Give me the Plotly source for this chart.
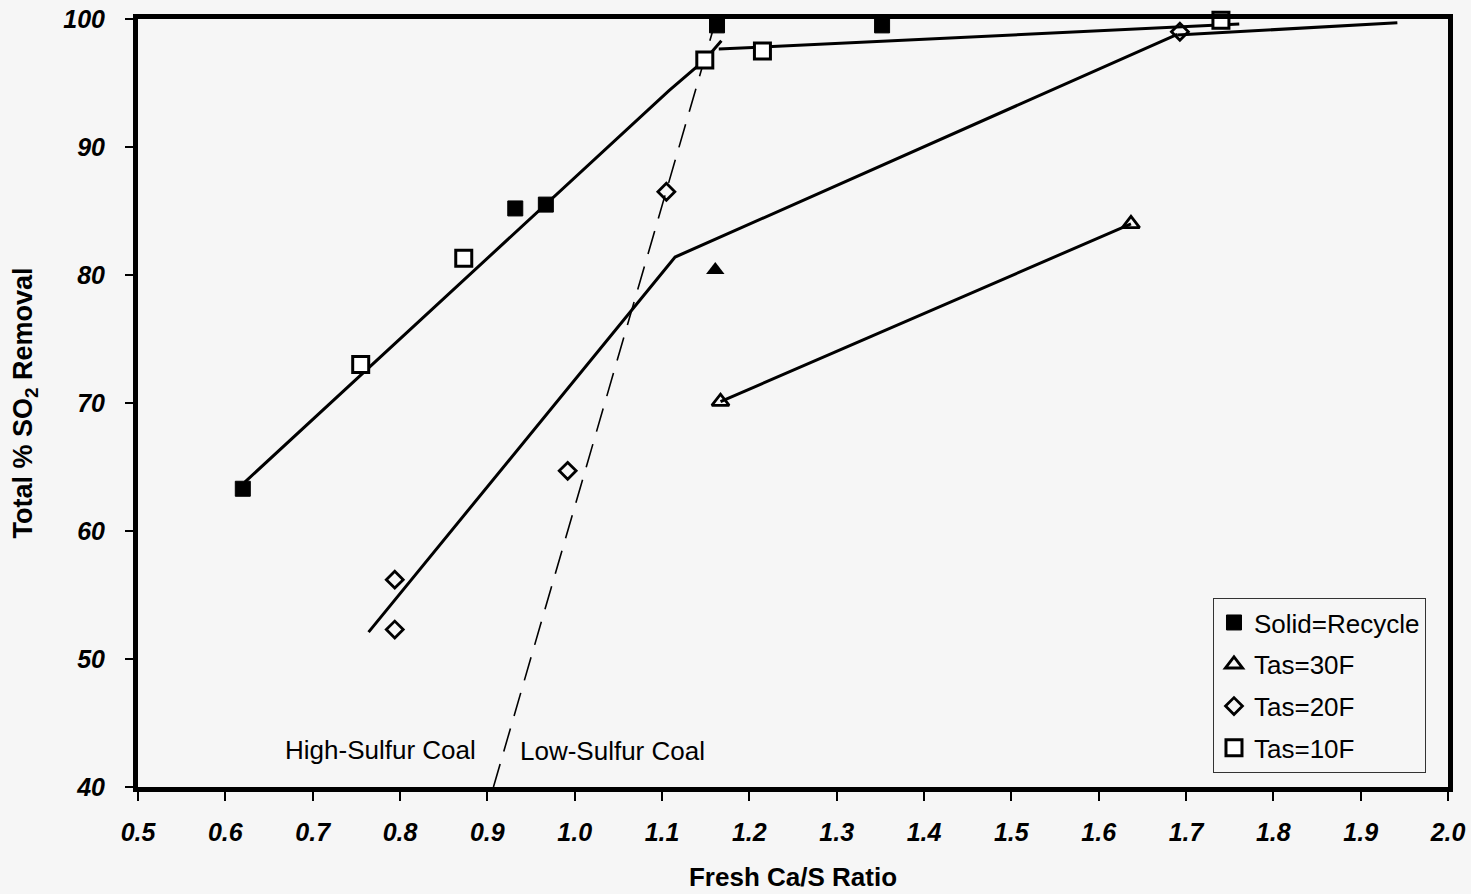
import plotly.graph_objects as go

# ---- data ----
recycle_sq_x = [0.62, 0.932, 0.967, 1.163, 1.352]
recycle_sq_y = [63.3, 85.2, 85.5, 99.5, 99.5]
recycle_tri_x = [1.161]
recycle_tri_y = [80.4]
recycle_dia_x = [1.917]
recycle_dia_y = [100.2]

tas30_x = [1.167, 1.637]
tas30_y = [70.1, 84.0]

tas20_x = [0.794, 0.794, 0.992, 1.105, 1.693]
tas20_y = [56.2, 52.3, 64.7, 86.5, 99.0]

tas10_x = [0.755, 0.873, 1.149, 1.215, 1.740]
tas10_y = [73.0, 81.3, 96.8, 97.5, 99.9]

# fitted curves
fitA_x = [0.622, 1.108, 1.149, 1.168]
fitA_y = [63.8, 94.4, 96.8, 98.3]
fitB_x = [1.165, 1.761]
fitB_y = [97.65, 99.6]
fitC_x = [0.764, 1.115, 1.690]
fitC_y = [52.1, 81.4, 98.8]
fitD_x = [1.690, 1.942]
fitD_y = [98.75, 99.7]
fitE_x = [1.167, 1.637]
fitE_y = [70.1, 84.0]

# high/low sulfur divider
div_x = [0.907, 1.162]
div_y = [40.0, 100.0]

FONT = "Arial, Liberation Sans, sans-serif"
BG = "#f6f6f6"

fig = go.Figure()

line_style = dict(color="black", width=3)
for xs, ys in [(fitA_x, fitA_y), (fitB_x, fitB_y), (fitC_x, fitC_y),
               (fitD_x, fitD_y), (fitE_x, fitE_y)]:
    fig.add_trace(go.Scatter(x=xs, y=ys, mode="lines", line=line_style,
                             showlegend=False, hoverinfo="skip"))

fig.add_trace(go.Scatter(x=div_x, y=div_y, mode="lines",
                         line=dict(color="black", width=1.6, dash="24px,13px"),
                         showlegend=False, hoverinfo="skip"))

fig.add_trace(go.Scatter(x=recycle_sq_x, y=recycle_sq_y, mode="markers",
                         name="Solid=Recycle", legendgroup="a",
                         marker=dict(symbol="square", size=15, color="black",
                                     line=dict(color="black", width=1)),
                         cliponaxis=False))
fig.add_trace(go.Scatter(x=tas30_x, y=tas30_y, mode="markers",
                         name="Tas=30F", legendgroup="b",
                         marker=dict(symbol="triangle-up-open", size=15, color="black",
                                     line=dict(color="black", width=2.8)),
                         cliponaxis=False))
fig.add_trace(go.Scatter(x=tas20_x, y=tas20_y, mode="markers",
                         name="Tas=20F", legendgroup="c",
                         marker=dict(symbol="diamond-open", size=13, color="black",
                                     line=dict(color="black", width=2.8)),
                         cliponaxis=False))
fig.add_trace(go.Scatter(x=tas10_x, y=tas10_y, mode="markers",
                         name="Tas=10F", legendgroup="d",
                         marker=dict(symbol="square", size=16, color="white",
                                     line=dict(color="black", width=3)),
                         cliponaxis=False))
fig.add_trace(go.Scatter(x=recycle_tri_x, y=recycle_tri_y, mode="markers",
                         showlegend=False,
                         marker=dict(symbol="triangle-up", size=16, color="black"),
                         cliponaxis=False))
fig.add_trace(go.Scatter(x=recycle_dia_x, y=recycle_dia_y, mode="markers",
                         showlegend=False,
                         marker=dict(symbol="diamond", size=15, color="black"),
                         cliponaxis=False))

fig.add_annotation(x=0.778, y=42.9, text="High-Sulfur Coal", showarrow=False,
                   font=dict(family=FONT, size=26, color="black"))
fig.add_annotation(x=1.043, y=42.8, text="Low-Sulfur Coal", showarrow=False,
                   font=dict(family=FONT, size=26, color="black"))

tickfont = dict(family=FONT, size=25, color="black", weight="bold", style="italic")

fig.update_layout(
    width=1471, height=894,
    margin=dict(l=138, r=23, t=19, b=107),
    paper_bgcolor=BG, plot_bgcolor=BG,
    font=dict(family=FONT, color="black"),
    xaxis=dict(range=[0.5, 2.0], tickvals=[0.5 + 0.1 * i for i in range(16)],
               ticktext=[f"{0.5 + 0.1 * i:.1f}" for i in range(16)],
               automargin=False,
               showgrid=False, zeroline=False, showline=True, linecolor="black",
               linewidth=5, mirror=True, ticks="outside", ticklen=9, tickwidth=1.5,
               tickcolor="black", tickfont=tickfont, ticklabelstandoff=10,
               title=dict(text="Fresh Ca/S Ratio", standoff=24,
                          font=dict(family=FONT, size=26, weight="bold"))),
    yaxis=dict(range=[40, 100], tickvals=[40, 50, 60, 70, 80, 90, 100],
               automargin=False,
               showgrid=False, zeroline=False, showline=True, linecolor="black",
               linewidth=5, mirror=True, ticks="outside", ticklen=8, tickwidth=1.5,
               tickcolor="black", tickfont=tickfont, ticklabelstandoff=15,
               title=dict(text="Total % SO<sub>2</sub> Removal", standoff=24,
                          font=dict(family=FONT, size=27, weight="bold"))),
    legend=dict(x=0.8206, y=0.246, xanchor="left", yanchor="top",
                bgcolor=BG, bordercolor="#333", borderwidth=1,
                font=dict(family=FONT, size=26, color="black"),
                tracegroupgap=5),
    showlegend=True,
)

fig.write_html("out.html")
